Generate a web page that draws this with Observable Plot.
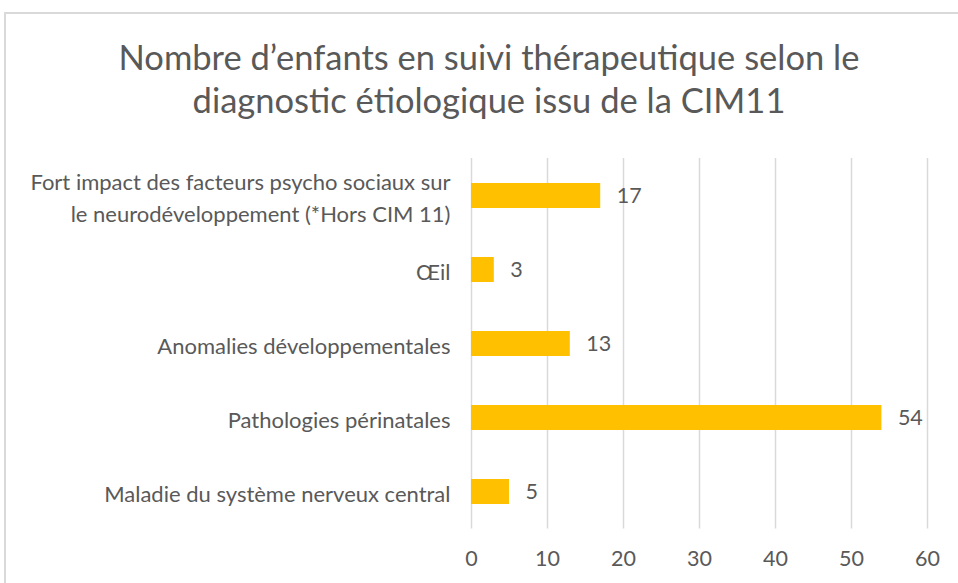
<!DOCTYPE html>
<html>
<head>
<meta charset="utf-8">
<script src="https://cdn.jsdelivr.net/npm/d3@7"></script>
<script src="https://cdn.jsdelivr.net/npm/@observablehq/plot@0.6"></script>
<style>
  html, body { margin: 0; padding: 0; background: #fff; overflow: hidden; }
  #wrap { position: relative; width: 958px; height: 583px; }
  #border { position: absolute; left: 4px; top: 12px; width: 1000px; height: 700px; border: 2px solid #d9d9d9; box-sizing: border-box; }
  #title { position: absolute; left: 0; top: 35px; width: 978px; text-align: center; font-family: Lato, sans-serif; font-size: 34.5px; line-height: 43px; color: #595959; }
  #chart { position: absolute; left: 0; top: 0; }
</style>
</head>
<body>
<div id="wrap">
  <div id="border"></div>
  <div id="title">Nombre d’enfants en suivi thérapeutique selon le<br>diagnostic étiologique issu de la CIM11</div>
  <div id="chart"></div>
</div>
<script>
const categories = [
  "Fort impact des facteurs psycho sociaux sur\nle neurodéveloppement (*Hors CIM 11)",
  "Œil",
  "Anomalies développementales",
  "Pathologies périnatales",
  "Maladie du système nerveux central"
];
const values = [17, 3, 13, 54, 5];
const xTicks = [0, 10, 20, 30, 40, 50, 60];

const data = categories.map((c, i) => ({category: c, value: values[i]}));

const chart = Plot.plot({
  width: 958,
  height: 583,
  marginLeft: 471,
  marginRight: 31,
  marginTop: 158,
  marginBottom: 54.5,
  style: {fontFamily: "Lato, sans-serif", color: "#595959", background: "transparent"},
  x: {domain: [0, 60], ticks: xTicks},
  y: {domain: categories, paddingInner: 0.66, paddingOuter: 0.33},
  marks: [
    Plot.gridX(xTicks, {stroke: "#d9d9d9", strokeOpacity: 1, strokeWidth: 1.5}),
    Plot.barX(data, {x: "value", y: "category", fill: "#FFC000"}),
    Plot.text(data, {x: "value", y: "category", text: d => String(d.value), dx: 16, textAnchor: "start", fontSize: 21.5, fill: "#595959"}),
    Plot.axisX({ticks: xTicks, tickSize: 0, tickPadding: 22, fontSize: 21.5, label: null, fill: "#595959"}),
    Plot.axisY({tickSize: 0, tickPadding: 21, fontSize: 22, label: null, lineHeight: 1.42, fill: "#595959"})
  ]
});
document.getElementById("chart").appendChild(chart);
</script>
</body>
</html>
